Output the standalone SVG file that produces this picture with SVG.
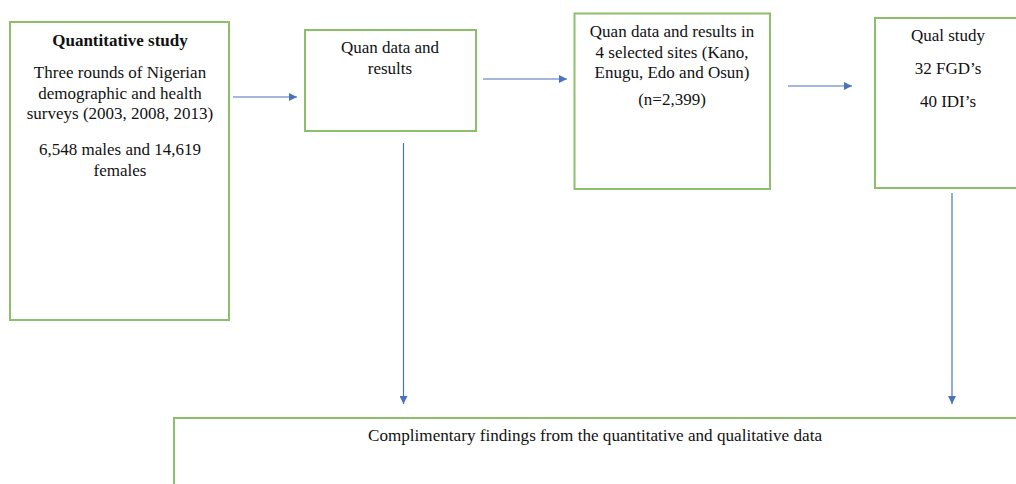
<svg xmlns="http://www.w3.org/2000/svg" width="1016" height="484" viewBox="0 0 1016 484">
<defs>
<style>
.box{fill:#fff;stroke:#8dbf6b;stroke-width:2}
.t{font-family:"Liberation Serif","Times New Roman",serif;font-size:17px;fill:#111;text-anchor:middle}
.b{font-weight:bold}
.c{stroke:#4a72be;stroke-width:1.2;fill:none}
</style>
<marker id="ah" viewBox="0 0 10 10" refX="10" refY="5" markerWidth="8" markerHeight="8" markerUnits="userSpaceOnUse" orient="auto">
<path d="M0,0 L10,5 L0,10 z" fill="#4a72be"/>
</marker>
</defs>
<rect width="1016" height="484" fill="#fff"/>
<g id="connectors">
<line class="c" x1="233" y1="97" x2="297" y2="97" marker-end="url(#ah)"/>
<line class="c" x1="483" y1="79" x2="567" y2="79" marker-end="url(#ah)"/>
<line class="c" x1="788" y1="86" x2="852" y2="86" marker-end="url(#ah)"/>
<line class="c" x1="403.5" y1="143" x2="403.5" y2="404" marker-end="url(#ah)"/>
<line class="c" x1="952" y1="193" x2="952" y2="404" marker-end="url(#ah)"/>
</g>
<g id="quantitative-study">
<rect class="box" x="10" y="22" width="219" height="298"/>
<text class="t b" x="120" y="46">Quantitative study</text>
<text class="t" x="120" y="78">Three rounds of Nigerian</text>
<text class="t" x="120" y="99">demographic and health</text>
<text class="t" x="120" y="119">surveys (2003, 2008, 2013)</text>
<text class="t" x="120" y="155">6,548 males and 14,619</text>
<text class="t" x="120" y="176">females</text>
</g>
<g id="quan-data">
<rect class="box" x="305" y="30" width="171" height="101"/>
<text class="t" x="390" y="53">Quan data and</text>
<text class="t" x="390" y="74">results</text>
</g>
<g id="quan-sites">
<rect class="box" x="574.5" y="13.5" width="195.5" height="175.5"/>
<text class="t" x="672" y="37">Quan data and results in</text>
<text class="t" x="672" y="58">4 selected sites (Kano,</text>
<text class="t" x="672" y="78">Enugu, Edo and Osun)</text>
<text class="t" x="672" y="105">(n=2,399)</text>
</g>
<g id="qual-study">
<rect class="box" x="875" y="18" width="145" height="170"/>
<text class="t" x="948" y="41">Qual study</text>
<text class="t" x="948" y="74">32 FGD’s</text>
<text class="t" x="948" y="107">40 IDI’s</text>
</g>
<g id="findings">
<rect class="box" x="174" y="418" width="846" height="80"/>
<text class="t" x="595" y="441" textLength="454" lengthAdjust="spacingAndGlyphs">Complimentary findings from the quantitative and qualitative data</text>
</g>
</svg>
